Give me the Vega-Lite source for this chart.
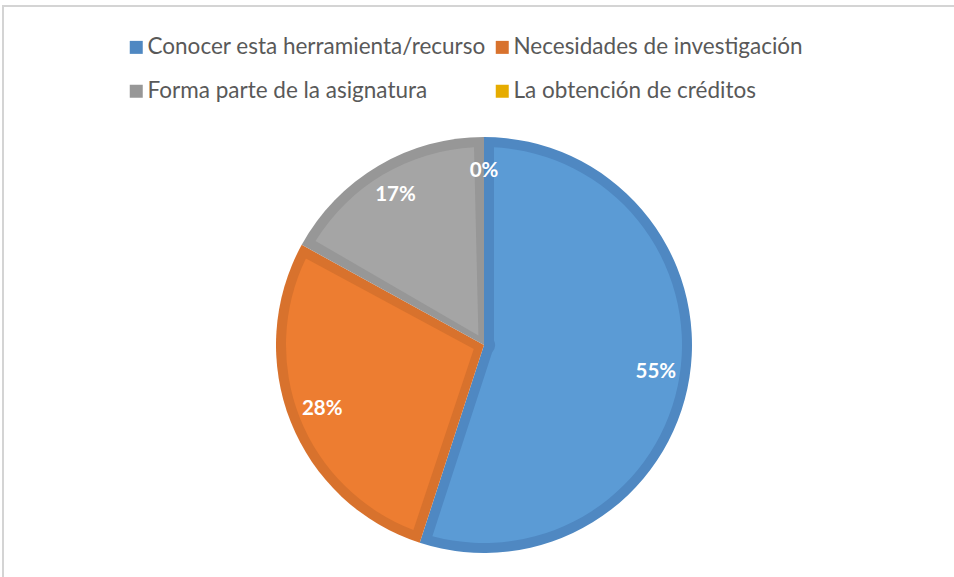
{
  "$schema": "https://vega.github.io/schema/vega-lite/v6.json",
  "width": 962,
  "height": 678,
  "autosize": {"type": "none"},
  "padding": {"left": 3, "top": 6, "right": 0, "bottom": 0},
  "background": "white",
  "view": {"stroke": "#D4D4D4", "strokeWidth": 2, "fill": "white"},
  "data": {"values": [
    {"cat": "Conocer esta herramienta/recurso", "v": 55, "o": 1, "label": "55%"},
    {"cat": "Necesidades de investigación", "v": 28, "o": 2, "label": "28%"},
    {"cat": "Forma parte de la asignatura", "v": 17, "o": 3, "label": "17%"},
    {"cat": "La obtención de créditos", "v": 0, "o": 4, "label": "0%"}
  ]},
  "resolve": {"scale": {"color": "independent"}},
  "layer": [
    {
      "mark": {"type": "arc", "outerRadius": 208},
      "encoding": {
        "theta": {"field": "v", "type": "quantitative", "stack": true},
        "order": {"field": "o", "type": "quantitative"},
        "color": {
          "field": "cat", "type": "nominal",
          "scale": {
            "domain": ["Conocer esta herramienta/recurso", "Necesidades de investigación", "Forma parte de la asignatura", "La obtención de créditos"],
            "range": ["#4F88C2", "#D8722D", "#979797", "#E6AC00"]
          },
          "legend": {
            "title": null,
            "orient": "none",
            "legendX": 122,
            "legendY": 30,
            "direction": "horizontal",
            "columns": 2,
            "columnPadding": 5,
            "rowPadding": 21,
            "symbolType": "square",
            "symbolSize": 169,
            "symbolStrokeWidth": 0,
            "symbolOffset": 0,
            "labelOffset": 0,
            "labelFont": "Lato",
            "labelFontSize": 22.5,
            "labelColor": "#595959",
            "labelLimit": 600
          }
        }
      }
    },
    {
      "mark": {"type": "arc", "outerRadius": 198, "innerRadius": 11, "padAngle": 0.1009},
      "encoding": {
        "theta": {"field": "v", "type": "quantitative", "stack": true},
        "order": {"field": "o", "type": "quantitative"},
        "color": {
          "field": "cat", "type": "nominal",
          "scale": {
            "domain": ["Conocer esta herramienta/recurso", "Necesidades de investigación", "Forma parte de la asignatura", "La obtención de créditos"],
            "range": ["#5B9BD5", "#ED7D31", "#A5A5A5", "#FFC000"]
          },
          "legend": null
        }
      }
    },
    {
      "mark": {"type": "text", "radius": 174, "font": "Lato", "fontWeight": "bold", "fontSize": 20.5, "color": "white"},
      "encoding": {
        "theta": {"field": "v", "type": "quantitative", "stack": true},
        "order": {"field": "o", "type": "quantitative"},
        "text": {"field": "label", "type": "nominal"}
      }
    }
  ]
}
